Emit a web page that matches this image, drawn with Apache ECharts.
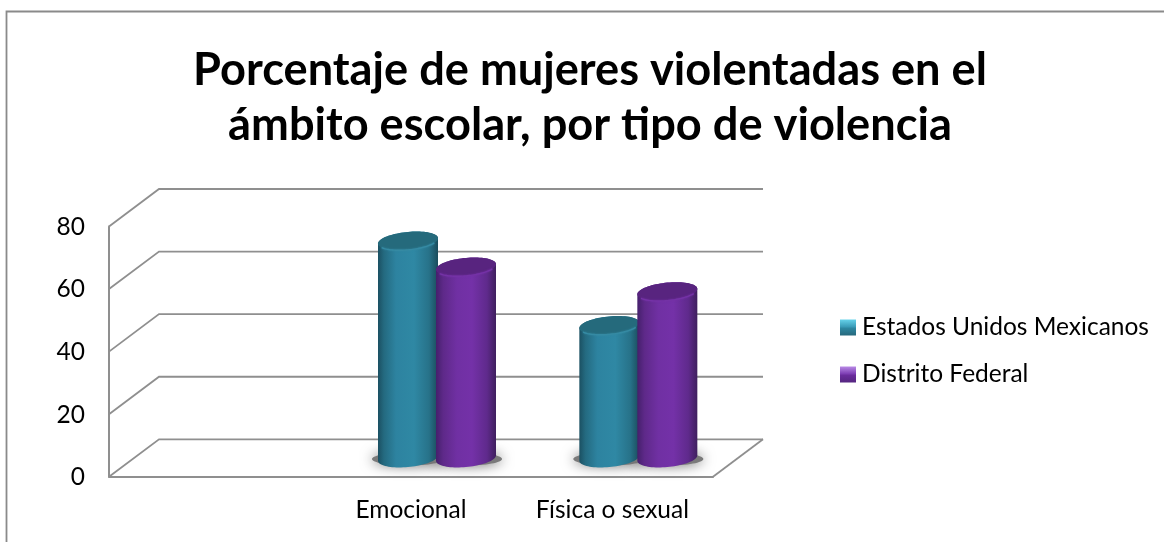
<!DOCTYPE html>
<html>
<head>
<meta charset="utf-8">
<style>html,body{margin:0;padding:0;background:#fff}#c{width:1164px;height:542px}</style>
<script src="https://cdn.jsdelivr.net/npm/echarts@6/dist/echarts.min.js"></script>
</head>
<body>
<div id="c"></div>
<script>
const categories = ['', 'Emocional', 'Física o sexual'];
const seriesNames = ['Estados Unidos Mexicanos', 'Distrito Federal'];
const estados = [null, 69.4, 42.4];
const distrito = [null, 61.1, 53.2];
const yTicks = [0, 20, 40, 60, 80];

const FONT = 'Lato';
const LINE = '#8f8f8f';
const DEPTH_X = 50, DEPTH_Y = 37.5;
const R = 30, B = 9, K = 0.09, SPACING = 29;

function grad(x0, y0, x1, y1, stops) {
  return new echarts.graphic.LinearGradient(x0, y0, x1, y1, stops.map(s => ({offset: s[0], color: s[1]})));
}
const palettes = [
  {
    body: [[0,'#1b5062'],[0.1,'#246a80'],[0.3,'#2d83a0'],[0.6,'#2f88a4'],[0.85,'#277289'],[1,'#1a4c5c']],
    top: '#256a7c', rim: '#358aa3',
    legend: [[0,'#66d2ea'],[0.45,'#3a9cb8'],[0.55,'#2d86a0'],[1,'#27687c']]
  },
  {
    body: [[0,'#45206c'],[0.12,'#5e2989'],[0.35,'#7030a3'],[0.6,'#7431a8'],[0.85,'#5f2a8c'],[1,'#3f1f5e']],
    top: '#58247f', rim: '#7432a6',
    legend: [[0,'#b98ae6'],[0.45,'#7e3fb4'],[0.55,'#6a2c9c'],[1,'#552680']]
  }
];

function ellipsePts(cx, cy, from, to, n) {
  const pts = [];
  for (let i = 0; i <= n; i++) {
    const t = from + (to - from) * i / n;
    pts.push([cx + R * Math.cos(t), cy + B * Math.sin(t) - K * R * Math.cos(t)]);
  }
  return pts;
}

function cylinder(si) {
  const sign = si === 0 ? -1 : 1;
  const pal = palettes[si];
  return function (params, api) {
    const idx = api.value(0), v = api.value(1);
    if (v == null || isNaN(v)) return;
    const base = api.coord([idx, 0]);
    const top = api.coord([idx, v]);
    const cx = base[0] + sign * SPACING + DEPTH_X / 2 + 1;
    const yB = base[1] - DEPTH_Y / 2;
    const yT = top[1] - DEPTH_Y / 2;
    const body = ellipsePts(cx, yB, Math.PI, 0, 40).concat(ellipsePts(cx, yT, 0, -Math.PI, 40));
    const topPts = ellipsePts(cx, yT, 0, 2 * Math.PI, 80);
    const rimPts = ellipsePts(cx, yT, 0.5, Math.PI - 0.5, 40);
    const z = 10 + si * 10;
    return {
      type: 'group',
      children: [
        {
          type: 'ellipse',
          shape: {cx: cx, cy: yB + 1, rx: 36, ry: 6.5},
          style: {fill: '#7a7a7a', shadowBlur: 13, shadowColor: '#6a6a6a'},
          z2: 1
        },
        {
          type: 'polygon',
          shape: {points: body},
          style: {fill: grad(0, 0, 1, 0, pal.body)},
          z2: z
        },
        {
          type: 'polygon',
          shape: {points: topPts},
          style: {fill: pal.top},
          z2: z + 1
        },
        {
          type: 'polyline',
          shape: {points: rimPts},
          style: {fill: 'none', stroke: pal.rim, lineWidth: 1.4, shadowBlur: 2, shadowColor: pal.rim},
          z2: z + 2
        }
      ]
    };
  };
}

function walls(params, api) {
  const v = api.value(0);
  const p = api.coord([0, v]);
  const cs = params.coordSys;
  const x0 = cs.x, x1 = cs.x + cs.width;
  const children = [{
    type: 'polyline',
    shape: {points: [[x0, p[1]], [x0 + DEPTH_X, p[1] - DEPTH_Y], [x1 + DEPTH_X, p[1] - DEPTH_Y]]},
    style: {fill: 'none', stroke: LINE, lineWidth: 1.8}
  }];
  if (v === 0) {
    children.push({
      type: 'line',
      shape: {x1: x1, y1: p[1], x2: x1 + DEPTH_X, y2: p[1] - DEPTH_Y},
      style: {stroke: LINE, lineWidth: 1.8}
    });
  }
  return {type: 'group', children: children};
}

const chart = echarts.init(document.getElementById('c'));
chart.setOption({
  animation: false,
  backgroundColor: '#fff',
  graphic: [{
    type: 'rect', silent: true,
    shape: {x: 6.5, y: 11.5, width: 1300, height: 700},
    style: {fill: 'none', stroke: '#8a8a8a', lineWidth: 1.8}
  }],
  title: {
    text: 'Porcentaje de mujeres violentadas en el\námbito escolar, por tipo de violencia',
    left: 585, top: 38, textAlign: 'center',
    textStyle: {fontFamily: FONT, fontWeight: 'bold', fontSize: 45.2, lineHeight: 55, color: '#000'}
  },
  legend: {
    orient: 'vertical', left: 840, top: 315, padding: 0, itemWidth: 16, itemHeight: 16, itemGap: 22,
    icon: 'rect',
    data: seriesNames.map((n, i) => ({name: n, itemStyle: {color: grad(0, 0, 0, 1, palettes[i].legend)}})),
    textStyle: {fontFamily: FONT, fontSize: 24.5, color: '#000', padding: [0, 0, 0, 1]}
  },
  grid: {left: 109, top: 226.5, width: 604, height: 250.3},
  xAxis: {
    type: 'category', data: categories,
    axisTick: {show: false},
    axisLine: {lineStyle: {color: LINE, width: 2}},
    axisLabel: {fontFamily: FONT, fontSize: 24.5, color: '#000', margin: 21, interval: 0}
  },
  yAxis: {
    type: 'value', min: 0, max: 80, interval: 20,
    axisTick: {show: false},
    splitLine: {show: false},
    axisLine: {show: true, lineStyle: {color: LINE, width: 2}},
    axisLabel: {fontFamily: FONT, fontSize: 24.5, color: '#000', margin: 24, verticalAlign: 'top', padding: [-12, 0, 0, 0]}
  },
  series: [
    {
      type: 'custom', name: 'paredes', z: 1, silent: true, clip: false,
      data: yTicks.map(v => [v]),
      encode: {y: 0},
      renderItem: walls
    },
    {
      type: 'custom', name: seriesNames[0], z: 2, clip: false,
      data: categories.map((c, i) => [i, estados[i]]),
      encode: {x: 0, y: 1},
      renderItem: cylinder(0)
    },
    {
      type: 'custom', name: seriesNames[1], z: 2, clip: false,
      data: categories.map((c, i) => [i, distrito[i]]),
      encode: {x: 0, y: 1},
      renderItem: cylinder(1)
    }
  ]
});
</script>
</body>
</html>
